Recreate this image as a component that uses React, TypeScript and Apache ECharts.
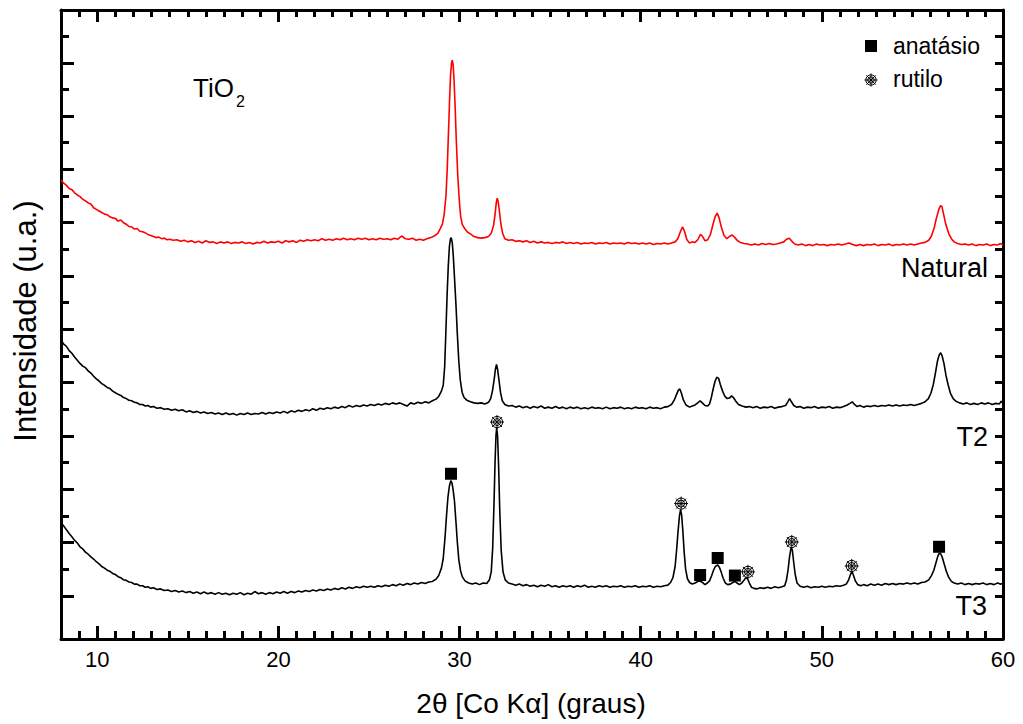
import React, { useEffect, useRef } from "react";
import * as echarts from "echarts";

// Diffractograms of TiO2 samples: 2θ (Co Kα, degrees) vs. intensity (stacked, arbitrary units)
const natural: [number, number][] = [
  [8.0,780],[8.15,774],[8.3,770],[8.45,764],[8.6,762],[8.75,756],[8.9,752],[9.05,749],[9.2,744],[9.35,741],[9.5,737],[9.65,735],[9.8,728],[9.95,725],[10.1,722],[10.25,719],[10.4,716],[10.55,715],[10.7,711],[10.85,709],[11.0,708],[11.15,703],[11.3,705],[11.45,700],[11.6,697],[11.75,693],[11.9,692],[12.05,688],[12.2,689],[12.35,684],[12.5,683],[12.65,681],[12.8,678],[12.95,676],[13.1,674],[13.25,672],[13.4,673],[13.55,670],[13.7,671],[13.85,668],[14.0,669],[14.2,667],[14.4,668],[14.6,665],[14.8,667],[15.0,664],[15.2,666],[15.4,663],[15.6,665],[15.8,662],[16.0,666],[16.2,663],[16.4,664],[16.6,661],[16.8,664],[17.0,662],[17.2,664],[17.4,661],[17.6,663],[17.8,662],[18.0,664],[18.2,661],[18.4,663],[18.6,660],[18.8,663],[19.0,662],[19.2,665],[19.4,662],[19.6,664],[19.8,663],[20.0,665],[20.2,662],[20.4,666],[20.6,664],[20.8,666],[21.0,663],[21.2,667],[21.4,665],[21.6,668],[21.8,666],[22.0,668],[22.2,666],[22.4,670],[22.6,667],[22.8,669],[23.0,667],[23.2,670],[23.4,668],[23.6,671],[23.8,668],[24.0,670],[24.2,668],[24.4,671],[24.6,669],[24.8,671],[25.0,668],[25.2,670],[25.4,668],[25.6,671],[25.8,669],[26.0,670],[26.2,668],[26.4,671],[26.6,669],[26.8,675],[27.0,670],[27.2,669],[27.4,671],[27.6,667],[27.8,669],[28.0,667],[28.2,670],[28.4,672],[28.6,675],[28.8,680],[28.92,688],[29.05,697],[29.15,715],[29.25,750],[29.32,800],[29.38,860],[29.44,920],[29.5,975],[29.56,1000],[29.6,1005],[29.65,995],[29.7,965],[29.76,915],[29.82,855],[29.9,790],[29.98,745],[30.06,712],[30.15,697],[30.3,688],[30.45,682],[30.6,679],[30.8,674],[31.0,672],[31.2,671],[31.4,672],[31.6,674],[31.75,680],[31.88,695],[31.97,718],[32.03,738],[32.08,746],[32.13,740],[32.2,722],[32.28,698],[32.38,680],[32.5,670],[32.7,667],[32.9,668],[33.1,665],[33.3,666],[33.5,664],[33.7,666],[33.9,663],[34.1,665],[34.3,662],[34.5,664],[34.7,662],[34.9,663],[35.1,661],[35.3,663],[35.5,662],[35.7,664],[35.9,661],[36.1,663],[36.3,661],[36.5,663],[36.7,660],[36.9,662],[37.1,661],[37.3,663],[37.5,660],[37.7,662],[37.9,661],[38.1,663],[38.3,660],[38.5,662],[38.7,661],[38.9,662],[39.1,660],[39.3,663],[39.5,661],[39.7,662],[39.9,660],[40.1,662],[40.3,660],[40.5,662],[40.7,659],[40.9,661],[41.1,660],[41.3,662],[41.5,660],[41.7,662],[41.9,664],[42.05,670],[42.2,684],[42.3,692],[42.42,684],[42.55,668],[42.7,662],[42.85,664],[43.0,663],[43.15,668],[43.3,678],[43.42,674],[43.55,666],[43.7,668],[43.85,678],[44.0,698],[44.12,712],[44.22,718],[44.32,710],[44.45,692],[44.6,676],[44.75,670],[44.9,674],[45.05,677],[45.2,672],[45.35,666],[45.5,663],[45.7,661],[45.9,660],[46.1,658],[46.3,660],[46.5,658],[46.7,661],[46.9,659],[47.1,661],[47.3,659],[47.5,660],[47.7,662],[47.9,664],[48.05,669],[48.2,671],[48.35,665],[48.5,660],[48.7,658],[48.9,660],[49.1,657],[49.3,659],[49.5,657],[49.7,660],[49.9,658],[50.1,659],[50.3,657],[50.5,659],[50.7,658],[50.9,660],[51.1,658],[51.3,660],[51.5,662],[51.7,659],[51.9,657],[52.1,659],[52.3,657],[52.5,659],[52.7,658],[52.9,660],[53.1,657],[53.3,659],[53.5,658],[53.7,660],[53.9,657],[54.1,659],[54.3,658],[54.5,660],[54.7,658],[54.9,660],[55.1,658],[55.3,660],[55.5,662],[55.7,663],[55.9,667],[56.05,675],[56.2,690],[56.32,708],[56.45,724],[56.55,732],[56.63,730],[56.72,716],[56.85,696],[57.0,680],[57.15,670],[57.3,664],[57.5,661],[57.7,659],[57.9,660],[58.1,658],[58.3,660],[58.5,657],[58.7,659],[58.9,658],[59.1,660],[59.3,657],[59.5,659],[59.7,658],[59.85,661],[60.0,658]
];

const t2: [number, number][] = [
  [8.0,480],[8.15,472],[8.3,468],[8.45,460],[8.6,455],[8.75,448],[8.9,442],[9.05,436],[9.2,431],[9.35,428],[9.5,422],[9.65,418],[9.8,412],[9.95,407],[10.1,403],[10.25,398],[10.4,395],[10.55,391],[10.7,389],[10.85,384],[11.0,381],[11.15,378],[11.3,376],[11.45,372],[11.6,370],[11.75,367],[11.9,366],[12.05,363],[12.2,362],[12.35,359],[12.5,359],[12.65,356],[12.8,357],[12.95,354],[13.1,355],[13.3,352],[13.5,353],[13.7,350],[13.9,351],[14.1,348],[14.3,350],[14.5,347],[14.7,349],[14.9,345],[15.1,347],[15.3,344],[15.5,346],[15.7,343],[15.9,345],[16.1,342],[16.3,344],[16.5,341],[16.7,343],[16.9,340],[17.1,343],[17.3,340],[17.5,342],[17.7,339],[17.9,342],[18.1,340],[18.3,343],[18.5,340],[18.7,342],[18.9,341],[19.1,344],[19.3,341],[19.5,344],[19.7,342],[19.9,345],[20.1,343],[20.3,346],[20.5,343],[20.7,347],[20.9,345],[21.1,348],[21.3,346],[21.5,349],[21.7,347],[21.9,351],[22.1,348],[22.3,352],[22.5,350],[22.7,353],[22.9,351],[23.1,354],[23.3,352],[23.5,355],[23.7,353],[23.9,357],[24.1,354],[24.3,357],[24.5,355],[24.7,358],[24.9,356],[25.1,359],[25.3,357],[25.5,360],[25.7,358],[25.9,361],[26.1,359],[26.3,362],[26.5,360],[26.7,362],[26.9,359],[27.1,356],[27.3,362],[27.5,360],[27.7,363],[27.9,361],[28.1,364],[28.3,362],[28.5,366],[28.7,369],[28.85,374],[29.0,384],[29.1,395],[29.18,430],[29.25,500],[29.32,570],[29.38,620],[29.44,655],[29.5,670],[29.54,672],[29.6,662],[29.66,635],[29.72,598],[29.8,548],[29.88,490],[29.96,440],[30.04,405],[30.14,382],[30.25,372],[30.4,367],[30.6,364],[30.8,362],[31.0,361],[31.2,362],[31.4,360],[31.6,363],[31.72,370],[31.82,385],[31.92,408],[31.98,425],[32.04,434],[32.1,425],[32.18,404],[32.26,382],[32.36,366],[32.5,359],[32.7,356],[32.9,357],[33.1,354],[33.3,356],[33.5,353],[33.7,355],[33.9,352],[34.1,355],[34.3,353],[34.5,356],[34.7,352],[34.9,354],[35.1,352],[35.3,355],[35.5,352],[35.7,354],[35.9,351],[36.1,354],[36.3,352],[36.5,354],[36.7,351],[36.9,353],[37.1,351],[37.3,354],[37.5,352],[37.7,353],[37.9,351],[38.1,354],[38.3,351],[38.5,353],[38.7,352],[38.9,354],[39.1,351],[39.3,353],[39.5,351],[39.7,354],[39.9,352],[40.1,353],[40.3,351],[40.5,354],[40.7,352],[40.9,353],[41.1,351],[41.3,354],[41.5,355],[41.7,359],[41.85,367],[41.98,378],[42.08,386],[42.16,388],[42.25,380],[42.35,368],[42.5,358],[42.7,354],[42.85,356],[43.0,358],[43.15,362],[43.28,366],[43.4,362],[43.55,357],[43.7,356],[43.8,360],[43.9,372],[44.0,388],[44.1,402],[44.2,410],[44.3,408],[44.4,396],[44.52,384],[44.65,374],[44.78,370],[44.9,371],[45.02,375],[45.12,372],[45.25,365],[45.4,359],[45.6,356],[45.8,354],[46.0,355],[46.2,353],[46.4,355],[46.6,352],[46.8,354],[47.0,353],[47.2,355],[47.4,352],[47.6,354],[47.8,355],[48.0,357],[48.12,364],[48.22,370],[48.32,364],[48.45,357],[48.6,354],[48.8,355],[49.0,352],[49.2,354],[49.4,353],[49.6,355],[49.8,352],[50.0,354],[50.2,353],[50.4,355],[50.6,352],[50.8,354],[51.0,353],[51.2,355],[51.4,358],[51.55,361],[51.68,364],[51.8,359],[51.95,355],[52.1,357],[52.3,354],[52.5,356],[52.7,355],[52.9,357],[53.1,355],[53.3,357],[53.5,356],[53.7,358],[53.9,356],[54.1,358],[54.3,356],[54.5,358],[54.7,357],[54.9,359],[55.1,357],[55.3,359],[55.5,361],[55.7,364],[55.88,370],[56.02,380],[56.15,396],[56.27,418],[56.38,440],[56.48,452],[56.56,456],[56.64,450],[56.74,436],[56.85,414],[56.97,396],[57.1,380],[57.25,370],[57.4,365],[57.6,362],[57.8,360],[58.0,362],[58.2,359],[58.4,361],[58.6,359],[58.8,362],[59.0,360],[59.2,362],[59.4,359],[59.6,361],[59.8,360],[59.9,365],[60.0,361]
];

const t3: [number, number][] = [
  [8.0,137],[8.15,131],[8.3,124],[8.45,117],[8.6,111],[8.75,104],[8.9,99],[9.05,92],[9.2,88],[9.35,82],[9.5,78],[9.65,73],[9.8,69],[9.95,64],[10.1,60],[10.25,55],[10.4,52],[10.55,48],[10.7,46],[10.85,42],[11.0,40],[11.15,36],[11.3,34],[11.45,30],[11.6,29],[11.75,26],[11.9,25],[12.05,22],[12.2,22],[12.35,19],[12.5,19],[12.65,16],[12.8,17],[12.95,14],[13.1,15],[13.3,12],[13.5,13],[13.7,10],[13.9,11],[14.1,8],[14.3,10],[14.5,7],[14.7,9],[14.9,6],[15.1,8],[15.3,5],[15.5,7],[15.7,4],[15.9,7],[16.1,4],[16.3,6],[16.5,3],[16.7,6],[16.9,3],[17.1,5],[17.3,2],[17.5,5],[17.7,3],[17.9,6],[18.1,2],[18.3,5],[18.5,3],[18.7,8],[18.9,4],[19.1,6],[19.3,3],[19.5,6],[19.7,4],[19.9,7],[20.1,5],[20.3,8],[20.5,5],[20.7,8],[20.9,6],[21.1,9],[21.3,7],[21.5,10],[21.7,8],[21.9,11],[22.1,9],[22.3,12],[22.5,10],[22.7,13],[22.9,11],[23.1,14],[23.3,12],[23.5,15],[23.7,13],[23.9,16],[24.1,14],[24.3,17],[24.5,15],[24.7,18],[24.9,16],[25.1,18],[25.3,16],[25.5,19],[25.7,17],[25.9,20],[26.1,18],[26.3,21],[26.5,19],[26.7,22],[26.9,20],[27.1,23],[27.3,21],[27.5,24],[27.7,22],[27.9,25],[28.1,23],[28.3,26],[28.5,27],[28.7,31],[28.85,38],[29.0,52],[29.1,70],[29.2,110],[29.28,150],[29.36,185],[29.44,206],[29.52,216],[29.58,212],[29.64,200],[29.72,178],[29.8,140],[29.88,100],[29.96,68],[30.05,48],[30.15,36],[30.3,28],[30.5,24],[30.7,22],[30.9,24],[31.1,21],[31.3,24],[31.5,23],[31.65,30],[31.75,45],[31.83,90],[31.9,170],[31.96,250],[32.01,300],[32.05,315],[32.1,300],[32.16,240],[32.22,160],[32.3,85],[32.4,45],[32.52,30],[32.7,24],[32.9,22],[33.1,20],[33.3,22],[33.5,19],[33.7,21],[33.9,18],[34.1,20],[34.3,17],[34.5,20],[34.7,18],[34.9,21],[35.1,17],[35.3,19],[35.5,16],[35.7,19],[35.9,17],[36.1,19],[36.3,16],[36.5,19],[36.7,17],[36.9,20],[37.1,16],[37.3,18],[37.5,16],[37.7,19],[37.9,17],[38.1,19],[38.3,16],[38.5,18],[38.7,17],[38.9,19],[39.1,16],[39.3,18],[39.5,17],[39.7,19],[39.9,16],[40.1,18],[40.3,17],[40.5,19],[40.7,16],[40.9,18],[41.1,17],[41.3,19],[41.5,20],[41.65,25],[41.78,34],[41.9,55],[41.98,85],[42.06,120],[42.14,150],[42.2,161],[42.26,152],[42.33,120],[42.4,82],[42.48,50],[42.58,32],[42.7,25],[42.85,22],[43.0,24],[43.1,26],[43.2,28],[43.32,27],[43.45,24],[43.55,21],[43.68,24],[43.8,28],[43.92,38],[44.02,48],[44.12,55],[44.25,58],[44.35,53],[44.45,44],[44.55,33],[44.68,24],[44.8,21],[44.95,22],[45.08,25],[45.2,27],[45.32,24],[45.45,21],[45.58,24],[45.7,29],[45.8,34],[45.9,32],[46.0,24],[46.12,16],[46.25,14],[46.4,13],[46.6,15],[46.8,14],[47.0,16],[47.2,14],[47.4,17],[47.6,15],[47.8,17],[47.95,19],[48.05,30],[48.14,50],[48.22,74],[48.3,90],[48.37,86],[48.45,62],[48.53,40],[48.63,24],[48.8,18],[49.0,16],[49.2,18],[49.4,15],[49.6,17],[49.8,16],[50.0,18],[50.2,16],[50.4,18],[50.6,17],[50.8,19],[51.0,18],[51.2,20],[51.35,22],[51.48,30],[51.58,40],[51.66,46],[51.75,38],[51.85,28],[51.98,21],[52.15,19],[52.3,21],[52.5,19],[52.7,22],[52.9,20],[53.1,22],[53.3,20],[53.5,23],[53.7,21],[53.9,23],[54.1,21],[54.3,23],[54.5,22],[54.7,24],[54.9,22],[55.1,24],[55.3,22],[55.5,25],[55.7,26],[55.9,30],[56.05,38],[56.18,48],[56.3,62],[56.4,74],[56.48,80],[56.56,79],[56.65,72],[56.75,60],[56.87,46],[57.0,35],[57.15,27],[57.3,24],[57.5,22],[57.7,24],[57.9,21],[58.1,23],[58.3,21],[58.5,23],[58.7,22],[58.9,24],[59.1,21],[59.3,23],[59.5,21],[59.7,24],[59.85,22],[60.0,23]
];

// Phase markers placed just above the T3 reflections
const anatase: [number, number][] = [[29.53,229],[43.28,39],[44.25,71],[45.2,38],[56.47,92]];
const rutile: [number, number][] = [[32.07,326],[42.23,173],[45.92,45],[48.34,101],[51.65,56]];

// Axis tick positions
const angleMajor = [10, 20, 30, 40, 50, 60];
const angleMinor: number[] = [];
for (let v = 9; v < 60; v++) if (v % 10 !== 0) angleMinor.push(v);
const intensityMajor: number[] = [];
for (let v = 0; v <= 1000; v += 100) intensityMajor.push(v);
const intensityMinor: number[] = [];
for (let v = 50; v <= 1050; v += 100) intensityMinor.push(v);
const intensityAll = [...intensityMajor, ...intensityMinor].sort((a, b) => a - b);

const FONT = '"Liberation Sans", Arial, Helvetica, sans-serif';
const WHEEL_D =
  "M10,2A8,8 0 1,1 10,18A8,8 0 1,1 10,2Z M10,5A5,5 0 1,1 10,15A5,5 0 1,1 10,5Z M10,0L10,20M0,10L20,10M2.9,2.9L17.1,17.1M17.1,2.9L2.9,17.1";
const WHEEL = "path://" + WHEEL_D;

// Rutile wheel glyph as a reusable graphic shape (for the key)
echarts.graphic.registerShape("rutileWheel", echarts.graphic.extendPath(WHEEL_D, {}) as any);

const Y_MIN = -81;
const Y_MAX = 1099;

const tickLine = { color: "#000", width: 3 };

function xAxisDef(position: "top" | "bottom", values: number[], len: number, withLine: boolean, withLabel: boolean) {
  return {
    type: "value",
    position,
    min: 8,
    max: 60,
    axisLine: { show: withLine, onZero: false, lineStyle: { color: "#000", width: 3 } },
    axisTick: { show: true, inside: true, length: len, lineStyle: tickLine, customValues: values },
    axisLabel: withLabel
      ? { show: true, customValues: angleMajor, fontSize: 22, color: "#000", margin: 9, fontFamily: FONT }
      : { show: false },
    splitLine: { show: false },
  };
}

function yAxisDef(position: "left" | "right", values: number[], len: number, withLine: boolean) {
  return {
    type: "value",
    position,
    min: Y_MIN,
    max: Y_MAX,
    axisLine: { show: withLine, onZero: false, lineStyle: { color: "#000", width: 3 } },
    axisTick: { show: true, inside: true, length: len, lineStyle: tickLine, customValues: values },
    axisLabel: { show: false },
    splitLine: { show: false },
  };
}

function lineSeries(name: string, data: [number, number][], color: string) {
  return {
    name,
    type: "line",
    data,
    showSymbol: false,
    symbol: "none",
    silent: true,
    lineStyle: { color, width: 1.6 },
    itemStyle: { color },
    z: 2,
  };
}

function label(text: string, x: number, y: number, size: number, align: string, extra: any = {}) {
  return {
    type: "text",
    x,
    y,
    ...extra,
    style: {
      text,
      fontSize: size,
      fontFamily: FONT,
      fill: "#000",
      textAlign: align,
      textVerticalAlign: "middle",
      align,
      verticalAlign: "middle",
    },
  };
}

export default function App() {
  const ref = useRef<HTMLDivElement>(null);

  useEffect(() => {
    if (!ref.current) return;
    const chart = echarts.init(ref.current, undefined, { renderer: "svg" });
    chart.setOption({
      animation: false,
      backgroundColor: "#fff",
      textStyle: { fontFamily: FONT },
      grid: { left: 61, right: 20, top: 10, bottom: 85, containLabel: false },
      xAxis: [
        xAxisDef("bottom", angleMajor, 13, true, true),
        xAxisDef("bottom", angleMinor, 8, false, false),
        xAxisDef("top", angleMajor, 12, true, false),
        xAxisDef("top", angleMinor, 7, false, false),
      ],
      yAxis: [
        yAxisDef("left", intensityMajor, 13, true),
        yAxisDef("left", intensityMinor, 8, false),
        yAxisDef("right", intensityAll, 8, true),
      ],
      series: [
        lineSeries("Natural", natural, "#ff0000"),
        lineSeries("T2", t2, "#000000"),
        lineSeries("T3", t3, "#000000"),
        {
          name: "anatásio",
          type: "scatter",
          data: anatase,
          symbol: "rect",
          symbolSize: 12,
          itemStyle: { color: "#000", opacity: 1 },
          z: 5,
        },
        {
          name: "rutilo",
          type: "scatter",
          data: rutile,
          symbol: WHEEL,
          symbolSize: 14,
          itemStyle: { color: "#fff", borderColor: "#000", borderWidth: 1, opacity: 1 },
          z: 5,
        },
      ],
      graphic: [
        label("TiO", 193, 88, 26, "left"),
        label("2", 236, 101, 16, "left"),
        label("Natural", 988, 268, 27, "right"),
        label("T2", 988, 437, 27, "right"),
        label("T3", 987, 606, 27, "right"),
        label("2θ [Co Kα] (graus)", 531, 703, 28, "center"),
        label("Intensidade (u.a.)", 25, 321, 31, "center", { rotation: Math.PI / 2 }),
        // key
        { type: "rect", shape: { x: 865, y: 40, width: 12, height: 12 }, style: { fill: "#000" } },
        label("anatásio", 893, 46, 23, "left"),
        {
          type: "rutileWheel",
          x: 864.5,
          y: 73.5,
          scaleX: 0.65,
          scaleY: 0.65,
          style: { fill: "#fff", stroke: "#000", lineWidth: 1.5 },
        },
        label("rutilo", 893, 79, 23, "left"),
      ],
    });
    return () => chart.dispose();
  }, []);

  return (
    <div
      ref={ref}
      style={{ position: "fixed", left: 0, top: 0, width: 1023, height: 724, background: "#fff" }}
    />
  );
}
